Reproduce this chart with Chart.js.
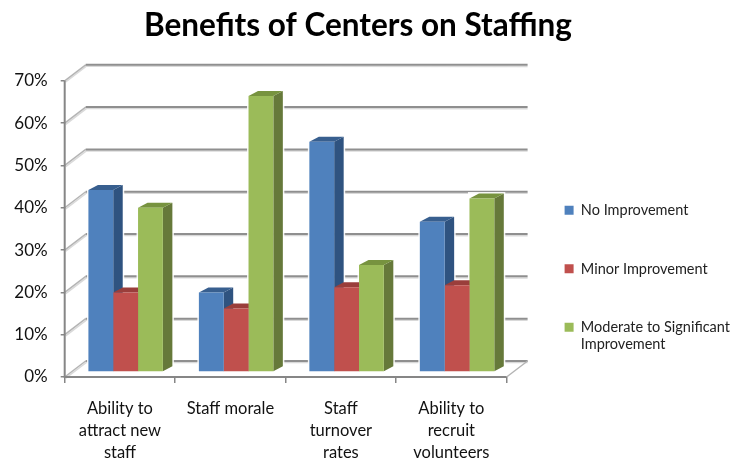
<!DOCTYPE html>
<html>
<head>
<meta charset="utf-8">
<style>html,body{margin:0;padding:0;background:#fff}canvas{display:block}</style>
<script src="https://cdn.jsdelivr.net/npm/chart.js@4"></script>
</head>
<body>
<canvas id="c" width="741" height="461"></canvas>
<script>
const categories = [["Ability to","attract new","staff"],"Staff morale",["Staff","turnover","rates"],["Ability to","recruit","volunteers"]];
const noImprovement = [43, 18.8, 54.4, 35.5];
const minorImprovement = [18.8, 15, 20, 20.5];
const moderateToSignificant = [38.8, 65.2, 25.3, 41];
const seriesNames = ["No Improvement","Minor Improvement",["Moderate to Significant","Improvement"]];
const frontColors = ["#4F81BD","#C0504D","#9BBB59"];
const sideColors = ["#2F5380","#8E3A38","#66793A"];
const topColors = ["#385F8F","#9A3E3B","#77933F"];
const FONT = "Lato, 'Open Sans', sans-serif";

const wall = {dx:21, dy:-16};      // depth of the back wall
const barShift = {dx:5.7, dy:-5};  // bars stand a little inside the floor
const barDepth = {dx:9.5, dy:-5};

const depthPlugin = {
  id:'depth',
  afterLayout(chart){
    // the title sits left of the page centre, the legend sits low
    chart.titleBlock.left -= 12; chart.titleBlock.right -= 12;
    chart.legend.top += 45; chart.legend.bottom += 45;
  },
  beforeDatasetsDraw(chart){
    const {ctx, scales:{x,y}, chartArea:a} = chart;
    ctx.save();
    y.ticks.forEach(t=>{
      const py = y.getPixelForValue(t.value);
      ctx.strokeStyle='rgba(170,170,170,.45)'; ctx.lineWidth=1.5;
      ctx.beginPath();ctx.moveTo(a.left+1,py+1.2);ctx.lineTo(a.left+wall.dx+1,py+wall.dy+1.2);ctx.lineTo(a.right+wall.dx,py+wall.dy+1.6);ctx.stroke();
      ctx.strokeStyle='#b4b4b4'; ctx.lineWidth=1.5;
      ctx.beginPath();ctx.moveTo(a.left,py);ctx.lineTo(a.left+wall.dx,py+wall.dy);ctx.stroke();
      ctx.strokeStyle='#8f8f8f'; ctx.lineWidth=2;
      ctx.beginPath();ctx.moveTo(a.left+wall.dx,py+wall.dy);ctx.lineTo(a.right+wall.dx,py+wall.dy);ctx.stroke();
    });
    ctx.strokeStyle='#b4b4b4'; ctx.lineWidth=1.5;
    ctx.beginPath();ctx.moveTo(a.right,a.bottom);ctx.lineTo(a.right+wall.dx,a.bottom+wall.dy);ctx.stroke();
    ctx.strokeStyle='#868686'; ctx.lineWidth=2;
    ctx.beginPath();ctx.moveTo(a.left,a.top);ctx.lineTo(a.left,a.bottom);ctx.lineTo(a.right,a.bottom);ctx.stroke();
    ctx.restore();

    ctx.save();
    ctx.translate(barShift.dx, barShift.dy);
    const metas = chart.getSortedVisibleDatasetMetas();
    // light halo that cuts the grid lines around each bar
    metas.forEach(meta=>{
      meta.data.forEach(b=>{
        const l=b.x-b.width/2, r=b.x+b.width/2, t=b.y, bt=b.base;
        ctx.fillStyle='rgba(255,255,255,.9)';
        ctx.fillRect(l-1.5,t+barDepth.dy-1.5,r-l+barDepth.dx+3,bt-t-barDepth.dy+3);
      });
    });
    // side and top faces, left to right; the front faces are drawn over them afterwards
    metas.forEach((meta,i)=>{
      meta.data.forEach(b=>{
        const l=b.x-b.width/2, r=b.x+b.width/2, t=b.y, bt=b.base, d=barDepth;
        ctx.fillStyle=sideColors[i];
        ctx.beginPath();ctx.moveTo(r,t);ctx.lineTo(r+d.dx,t+d.dy);ctx.lineTo(r+d.dx,bt+d.dy);ctx.lineTo(r,bt);ctx.closePath();ctx.fill();
        ctx.fillStyle=topColors[i];
        ctx.beginPath();ctx.moveTo(l,t);ctx.lineTo(l+d.dx,t+d.dy);ctx.lineTo(r+d.dx,t+d.dy);ctx.lineTo(r,t);ctx.closePath();ctx.fill();
      });
    });
  },
  afterDatasetsDraw(chart){ chart.ctx.restore(); }
};

new Chart(document.getElementById('c'),{
  type:'bar',
  plugins:[depthPlugin],
  data:{
    labels:categories,
    datasets:[
      {label:seriesNames[0],data:noImprovement,backgroundColor:frontColors[0]},
      {label:seriesNames[1],data:minorImprovement,backgroundColor:frontColors[1]},
      {label:seriesNames[2],data:moderateToSignificant,backgroundColor:frontColors[2]}
    ]
  },
  options:{
    responsive:false,
    animation:false,
    devicePixelRatio:1,
    layout:{padding:{left:0,right:1,top:7,bottom:0}},
    categoryPercentage:0.674,
    barPercentage:1,
    plugins:{
      tooltip:{enabled:false},
      title:{display:true,text:"Benefits of Centers on Staffing",color:"#000",
        font:{family:FONT,size:31.5,weight:'bold',lineHeight:1.2},padding:{top:0,bottom:36}},
      legend:{position:'right',align:'center',maxWidth:225,
        labels:{font:{family:FONT,size:14.5},color:"#222",boxWidth:9,boxHeight:9,padding:44}}
    },
    scales:{
      x:{
        grid:{drawOnChartArea:false,drawTicks:true,tickLength:6,color:'#868686',lineWidth:1.5},
        border:{display:false},
        ticks:{font:{family:FONT,size:16.5,lineHeight:1.36},color:"#111",padding:14,autoSkip:false,maxRotation:0,minRotation:0},
        afterFit(s){s.height=84;}
      },
      y:{
        min:0,max:70,
        grid:{drawOnChartArea:false,drawTicks:true,tickLength:4,color:'#868686',lineWidth:1.5},
        border:{display:false},
        ticks:{stepSize:10,font:{family:FONT,size:17},color:"#111",padding:13,callback:v=>v+'%'},
        afterFit(s){s.width=64.7;}
      },
      gap:{
        type:'linear',position:'right',display:true,
        grid:{display:false},border:{display:false},ticks:{display:false},
        afterFit(s){s.width=14;}
      }
    }
  }
});
</script>
</body>
</html>
